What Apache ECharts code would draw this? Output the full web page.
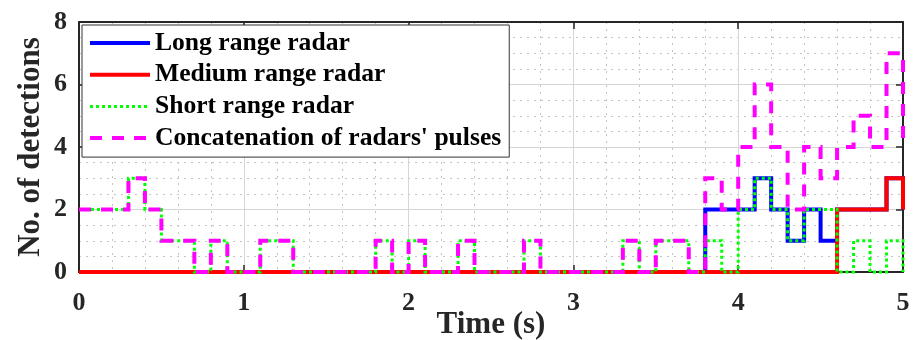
<!DOCTYPE html>
<html>
<head>
<meta charset="utf-8">
<script src="https://cdn.jsdelivr.net/npm/echarts@6/dist/echarts.min.js"></script>
<style>
html,body{margin:0;padding:0;background:#fff;}
#chart{width:913px;height:340px;}
</style>
</head>
<body>
<div id="chart"></div>
<script>
// Sample times (s), one sample every 0.1 s
var times = [0.0,0.1,0.2,0.3,0.4,0.5,0.6,0.7,0.8,0.9,
             1.0,1.1,1.2,1.3,1.4,1.5,1.6,1.7,1.8,1.9,
             2.0,2.1,2.2,2.3,2.4,2.5,2.6,2.7,2.8,2.9,
             3.0,3.1,3.2,3.3,3.4,3.5,3.6,3.7,3.8,3.9,
             4.0,4.1,4.2,4.3,4.4,4.5,4.6,4.7,4.8,4.9,5.0];

var longRange = [0,0,0,0,0,0,0,0,0,0,
                 0,0,0,0,0,0,0,0,0,0,
                 0,0,0,0,0,0,0,0,0,0,
                 0,0,0,0,0,0,0,0,2,2,
                 2,3,2,1,2,1,2,2,2,3,2];

var mediumRange = [0,0,0,0,0,0,0,0,0,0,
                   0,0,0,0,0,0,0,0,0,0,
                   0,0,0,0,0,0,0,0,0,0,
                   0,0,0,0,0,0,0,0,0,0,
                   0,0,0,0,0,0,2,2,2,3,2];

var shortRange = [2,2,2,3,2,1,1,0,1,0,
                  0,1,1,0,0,0,0,0,1,0,
                  1,0,0,1,0,0,0,1,0,0,
                  0,0,0,1,0,1,1,0,1,0,
                  2,3,2,1,2,2,0,1,0,1,0];

var concatenation = [2,2,2,3,2,1,1,0,1,0,
                     0,1,1,0,0,0,0,0,1,0,
                     1,0,0,1,0,0,0,1,0,0,
                     0,0,0,1,0,1,1,0,3,2,
                     4,6,4,2,4,3,4,5,4,7,4];

var seriesNames = ['Long range radar','Medium range radar','Short range radar',"Concatenation of radars' pulses"];
var xTicks = [0,1,2,3,4,5];
var yTicks = [0,2,4,6,8];

function pairs(vals){ return times.map(function(t,i){ return [t, vals[i]]; }); }

var chart = echarts.init(document.getElementById('chart'), null, {renderer:'canvas'});
var FONT = '"Liberation Serif","Times New Roman",serif';
var axisCol = '#262626';

function xAx(pos, showLabel){
  return {
    type:'value', position:pos, min:xTicks[0], max:xTicks[xTicks.length-1], interval:1,
    axisLine:{show:true, onZero:false, lineStyle:{color:axisCol, width:2}},
    axisTick:{show:true, inside:true, length:7, lineStyle:{color:axisCol, width:1.5}},
    axisLabel:{show:showLabel, fontFamily:FONT, fontWeight:'bold', fontSize:26, color:'#262626', margin:18},
    splitLine:{show:showLabel, lineStyle:{color:'#d6d6d6', width:1}},
    minorTick:{show:false, splitNumber:5},
    minorSplitLine:{show:showLabel, lineStyle:{color:'#c4c4c4', width:1, type:[2,5]}},
    name: showLabel ? 'Time (s)' : '', nameLocation:'middle', nameGap:37, nameMoveOverlap:false,
    nameTextStyle:{fontFamily:FONT, fontWeight:'bold', fontSize:31, color:'#262626'}
  };
}
function yAx(pos, showLabel){
  return {
    type:'value', position:pos, min:yTicks[0], max:yTicks[yTicks.length-1], interval:2,
    axisLine:{show:true, onZero:false, lineStyle:{color:axisCol, width:2}},
    axisTick:{show:true, inside:true, length:7, lineStyle:{color:axisCol, width:1.5}},
    axisLabel:{show:showLabel, fontFamily:FONT, fontWeight:'bold', fontSize:26, color:'#262626', margin:12},
    splitLine:{show:showLabel, lineStyle:{color:'#d6d6d6', width:1}},
    minorTick:{show:false, splitNumber:4},
    minorSplitLine:{show:showLabel, lineStyle:{color:'#c4c4c4', width:1, type:[2,5]}},
    name: showLabel ? 'No. of detections' : '', nameLocation:'middle', nameGap:33, nameRotate:90, nameMoveOverlap:false,
    nameTextStyle:{fontFamily:FONT, fontWeight:'bold', fontSize:31, color:'#262626'}
  };
}

var styles = [
  {color:'#0000ff', width:4, type:'solid'},
  {color:'#ff0000', width:4, type:'solid'},
  {color:'#00ff00', width:3, type:[3,3]},
  {color:'#ff00ff', width:4, type:[12,10]}
];
var data = [longRange, mediumRange, shortRange, concatenation];

var series = seriesNames.map(function(n, i){
  return {
    name:n, type:'line', step:'end', data:pairs(data[i]),
    xAxisIndex:0, yAxisIndex:0,
    symbol:'none', showSymbol:false, animation:false,
    clip:false,
    lineStyle:{color:styles[i].color, width:styles[i].width, type:styles[i].type, cap:'butt', join:'miter'},
    itemStyle:{color:styles[i].color},
    z: 2+i
  };
});

chart.setOption({
  animation:false,
  backgroundColor:'#ffffff',
  grid:{left:79, right:10, top:22, bottom:68, containLabel:false, outerBoundsMode:'none'},
  xAxis:[xAx('bottom', true), xAx('top', false)],
  yAxis:[yAx('left', true), yAx('right', false)],
  legend:{
    orient:'vertical', left:82, top:25,
    padding:[5,8,6,6], itemGap:5.7, itemWidth:60, itemHeight:26,
    backgroundColor:'#ffffff', borderColor:'#333333', borderWidth:1,
    itemStyle:{opacity:0, borderWidth:0},
    lineStyle:{width:'inherit'},
    textStyle:{fontFamily:FONT, fontWeight:'bold', fontSize:25.6, color:'#000000', lineHeight:26},
    data:seriesNames
  },
  series:series
});
</script>
</body>
</html>
